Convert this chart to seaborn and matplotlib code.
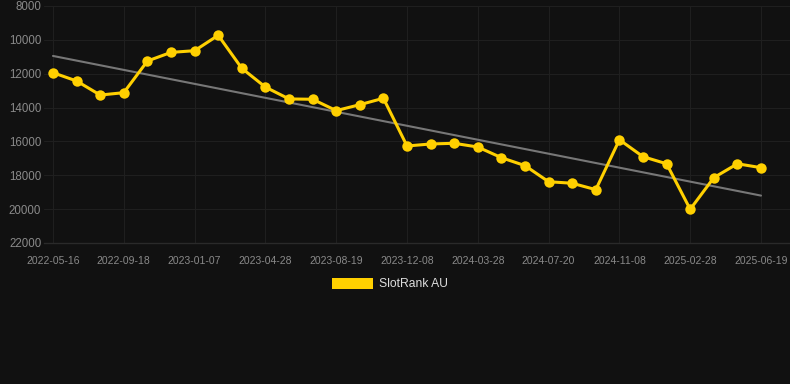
import numpy as np
import pandas as pd
import matplotlib
matplotlib.use("Agg")
import matplotlib.pyplot as plt
from matplotlib.patches import Patch
import seaborn as sns

# ---- data ----
tick_labels = ["2022-05-16", "2022-09-18", "2023-01-07", "2023-04-28", "2023-08-19",
               "2023-12-08", "2024-03-28", "2024-07-20", "2024-11-08", "2025-02-28",
               "2025-06-19"]
rank_values = [11940, 12430, 13260, 13120, 11250, 10740, 10640, 9730, 11680, 12790,
               13490, 13510, 14180, 13830, 13450, 16270, 16150, 16110, 16330, 16960,
               17430, 18380, 18470, 18850, 15900, 16900, 17320, 20010, 18140, 17320,
               17550]
trend_values = [10950, 19200]   # trend line at first and last point
y_ticks = [8000, 10000, 12000, 14000, 16000, 18000, 20000, 22000]
series_name = "SlotRank AU"

# ---- style ----
BG = "#111111"
GRID = "#1f1f1f"
TEXT = "#8a8a8a"
YELLOW = "#FFD000"

sns.set_theme(style="dark")
plt.rcParams["font.family"] = ["Liberation Sans", "DejaVu Sans"]

W, H = 790, 384
fig = plt.figure(figsize=(W / 100, H / 100), dpi=100, facecolor=BG)
left, right, top, bottom = 44, 790, 6, 243
ax = fig.add_axes([left / W, 1 - bottom / H, (right - left) / W, (bottom - top) / H])
ax.set_facecolor(BG)

idx = np.arange(len(rank_values))
df = pd.DataFrame({"idx": idx, "rank": rank_values})

sns.lineplot(x=[idx[0], idx[-1]], y=trend_values, ax=ax, color="#777777",
             linewidth=1.5, zorder=2)

sns.lineplot(data=df, x="idx", y="rank", ax=ax, color=YELLOW, linewidth=2.2,
             marker="o", markersize=7.5, markeredgewidth=0, zorder=3)

# axes scaling
px_per_unit = (761 - 53) / 30
ax.set_xlim(-(53 - left) / px_per_unit, 30 + (right - 761) / px_per_unit)
ax.set_ylim(22000, 8000)

tick_pos = idx[::3]
ax.set_xticks(tick_pos)
ax.set_xticklabels(tick_labels)
ax.set_yticks(y_ticks)
ax.set_yticklabels([str(v) for v in y_ticks])

ax.grid(True, color=GRID, linewidth=0.8)
ax.set_axisbelow(True)
for s in ["top", "right", "left"]:
    ax.spines[s].set_visible(False)
ax.spines["bottom"].set_visible(True)
ax.spines["bottom"].set_color("#2a2a2a")
ax.spines["bottom"].set_linewidth(1)

ax.tick_params(axis="y", colors=TEXT, labelsize=8.3, length=0, pad=2)
ax.tick_params(axis="x", colors=TEXT, labelsize=7.5, length=6, width=0.8,
               direction="out", pad=3)
for t in ax.xaxis.get_ticklines():
    t.set_color("#2a2a2a")
ax.set_xlabel("")
ax.set_ylabel("")

handle = Patch(facecolor=YELLOW, edgecolor="none", label=series_name)
leg = fig.legend(handles=[handle], loc="center", bbox_to_anchor=(390 / W, 1 - 284 / H),
                 frameon=False, fontsize=8.7, handlelength=3.4, handleheight=1.0,
                 handletextpad=0.5, labelcolor="#dddddd")

fig.savefig("out.png", dpi=100, facecolor=BG)
